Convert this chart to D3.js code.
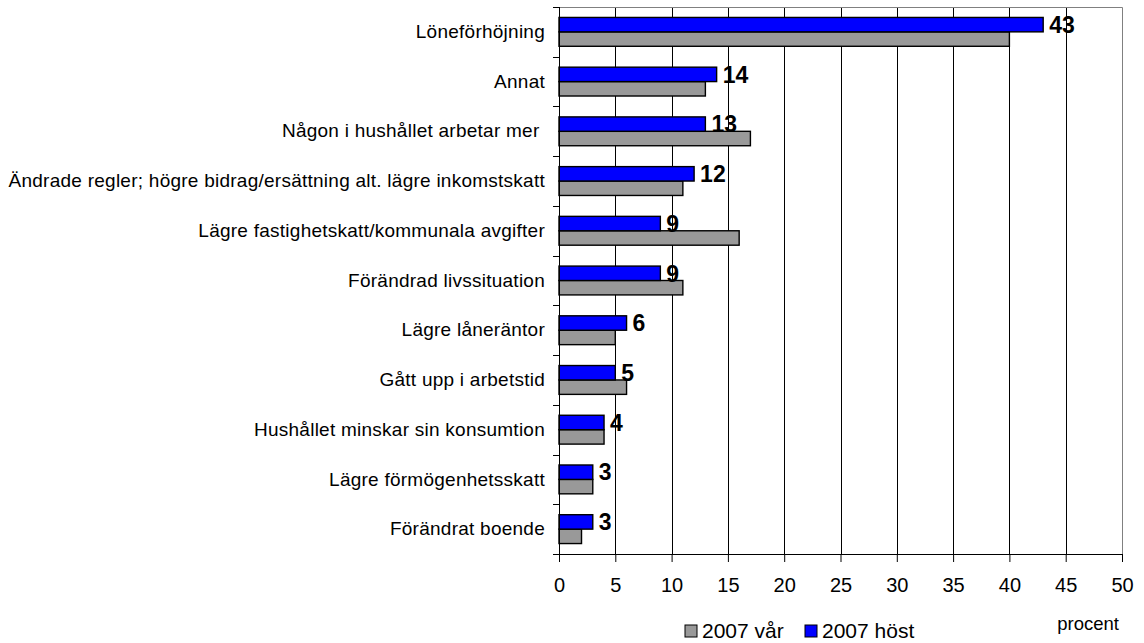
<!DOCTYPE html>
<html>
<body style="margin:0;background:#fff">
<script src="https://d3js.org/d3.v7.min.js"></script>
<style>
  svg { font-family: "Liberation Sans", Arial, sans-serif; }
  .grid line { stroke: #000; }
  .cat text { white-space: pre; letter-spacing: 0.25px; }
</style>
<script>
// data (percent)
const categories = [
  "Löneförhöjning",
  "Annat",
  "Någon i hushållet arbetar mer ",
  "Ändrade regler; högre bidrag/ersättning alt. lägre inkomstskatt",
  "Lägre fastighetskatt/kommunala avgifter",
  "Förändrad livssituation",
  "Lägre låneräntor",
  "Gått upp i arbetstid",
  "Hushållet minskar sin konsumtion",
  "Lägre förmögenhetsskatt",
  "Förändrat boende"
];
const host2007 = [43, 14, 13, 12, 9, 9, 6, 5, 4, 3, 3];
const var2007  = [40, 13, 17, 11, 16, 11, 5, 6, 4, 3, 2];
const xTicks = [0, 5, 10, 15, 20, 25, 30, 35, 40, 45, 50];
const seriesNames = ["2007 vår", "2007 höst"];

const width = 1144, height = 643;
const plot = {left: 559, right: 1122, top: 7, bottom: 554};

const svg = d3.select("body").append("svg")
    .attr("width", width)
    .attr("height", height);

const x = d3.scaleLinear().domain([0, 50]).range([plot.left, plot.right]);
const y = d3.scaleBand().domain(categories).range([plot.top, plot.bottom])
    .paddingInner(0.42).paddingOuter(0.21);
const sub = d3.scaleBand().domain(["host", "var"]).range([0, y.bandwidth()]);

// grid lines
svg.append("g").attr("class", "grid")
  .selectAll("line")
  .data(xTicks.filter(d => d > 0 && d < 50))
  .enter().append("line")
    .attr("x1", d => Math.round(x(d)) + 0.5).attr("x2", d => Math.round(x(d)) + 0.5)
    .attr("y1", plot.top).attr("y2", plot.bottom);

// plot border top + right (grey)
svg.append("path")
    .attr("d", `M${plot.left},${plot.top + 0.5}H${plot.right + 0.5}V${plot.bottom}`)
    .attr("fill", "none").attr("stroke", "#808080");

const rows = categories.map((c, i) => ({c, host: host2007[i], var: var2007[i]}));

// bars
const g = svg.append("g");
g.selectAll("rect.var")
  .data(rows)
  .enter().append("rect")
    .attr("class", "var")
    .attr("x", x(0))
    .attr("y", d => y(d.c) + sub("var"))
    .attr("width", d => x(d.var) - x(0))
    .attr("height", sub.bandwidth())
    .attr("fill", "#999999").attr("stroke", "#000").attr("stroke-width", 1.4);

g.selectAll("rect.host")
  .data(rows)
  .enter().append("rect")
    .attr("class", "host")
    .attr("x", x(0))
    .attr("y", d => y(d.c) + sub("host"))
    .attr("width", d => x(d.host) - x(0))
    .attr("height", sub.bandwidth())
    .attr("fill", "#0000ff").attr("stroke", "#000").attr("stroke-width", 1.4);

// value labels for autumn series
g.selectAll("text.val")
  .data(rows)
  .enter().append("text")
    .attr("class", "val")
    .attr("x", d => x(d.host) + 6)
    .attr("y", d => y(d.c) + sub("host") + sub.bandwidth() / 2)
    .attr("dy", "0.36em")
    .attr("font-size", 23).attr("font-weight", "bold")
    .text(d => d.host);

// x axis
const xAxis = d3.axisBottom(x).tickValues(xTicks).tickSize(8).tickPadding(16);
svg.append("g")
    .attr("transform", `translate(0,${plot.bottom})`)
    .call(xAxis)
    .call(a => a.select(".domain").attr("d", `M${plot.left},0.5H${plot.right}`).attr("stroke", "#000"))
    .call(a => a.selectAll(".tick line").attr("stroke", "#000"))
    .call(a => a.selectAll("text").attr("font-size", 20).attr("fill", "#000").attr("font-family", null));

// y axis (labels only), ticks at band boundaries
const yAxis = d3.axisLeft(y).tickSize(0).tickPadding(14);
svg.append("g")
    .attr("class", "cat")
    .attr("transform", `translate(${plot.left},0)`)
    .call(yAxis)
    .call(a => a.select(".domain").attr("d", `M0.5,${plot.top}V${plot.bottom}`).attr("stroke", "#000"))
    .call(a => a.selectAll("text").attr("font-size", 19).attr("fill", "#000").attr("font-family", null));

const bounds = categories.map(c => y(c) - y.step() * y.paddingInner() / 2).concat([plot.bottom]);
svg.append("g").selectAll("line")
  .data(bounds)
  .enter().append("line")
    .attr("x1", plot.left - 6).attr("x2", plot.left)
    .attr("y1", d => Math.round(d) + 0.5).attr("y2", d => Math.round(d) + 0.5)
    .attr("stroke", "#000");

// axis unit
svg.append("text")
    .attr("x", 1119).attr("y", 630)
    .attr("text-anchor", "end")
    .attr("font-size", 18.5)
    .text("procent");

// legend
const legend = svg.append("g").attr("transform", "translate(685,638)");
const legendItems = [
  {name: seriesNames[0], color: "#999999", x: 0},
  {name: seriesNames[1], color: "#0000ff", x: 120}
];
const li = legend.selectAll("g")
  .data(legendItems)
  .enter().append("g")
    .attr("transform", d => `translate(${d.x},0)`);
li.append("rect")
    .attr("x", 0).attr("y", -13).attr("width", 12).attr("height", 12)
    .attr("fill", d => d.color).attr("stroke", "#000");
li.append("text")
    .attr("x", 17).attr("y", 0)
    .attr("font-size", 21)
    .text(d => d.name);
</script>
</body>
</html>
